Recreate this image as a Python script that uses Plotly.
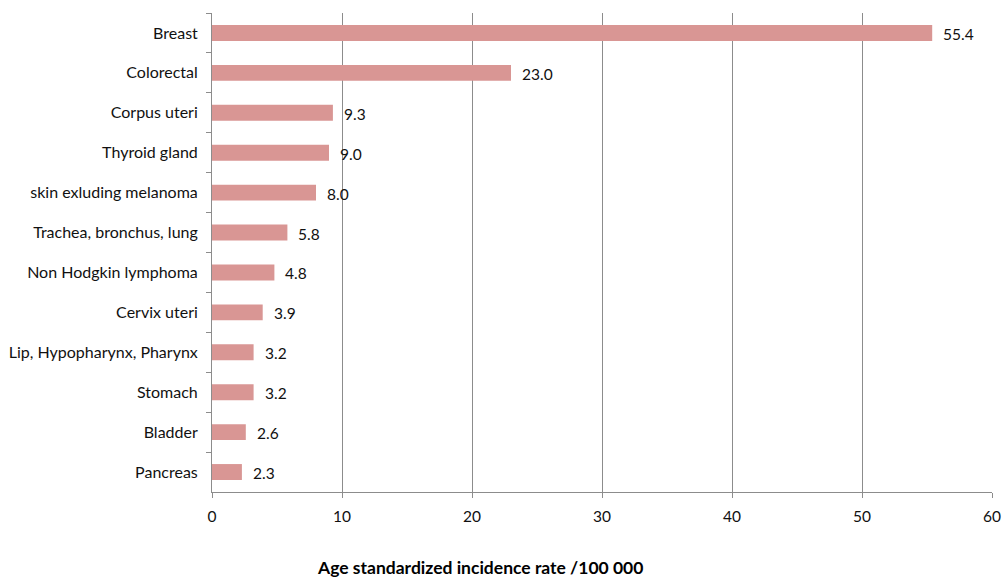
import plotly.graph_objects as go

sites = [
    "Breast", "Colorectal", "Corpus uteri", "Thyroid gland",
    "skin exluding melanoma", "Trachea, bronchus, lung",
    "Non Hodgkin lymphoma", "Cervix uteri", "Lip, Hypopharynx, Pharynx",
    "Stomach", "Bladder", "Pancreas",
]
rates = [55.4, 23.0, 9.3, 9.0, 8.0, 5.8, 4.8, 3.9, 3.2, 3.2, 2.6, 2.3]
x_ticks = [0, 10, 20, 30, 40, 50, 60]

FONT = "Lato, Calibri, Carlito, sans-serif"
AXIS_GREY = "#8c8c8c"
TEXT = "#111111"

fig = go.Figure(
    go.Bar(
        x=rates,
        y=sites,
        orientation="h",
        width=0.4,
        marker=dict(color="#d99694", line=dict(width=0)),
        hoverinfo="x+y",
    )
)

# value labels just past the end of each bar
for site, rate in zip(sites, rates):
    fig.add_annotation(
        x=rate, y=site, text=f"{rate:.1f}", showarrow=False,
        xanchor="left", xshift=9, yshift=-1,
        font=dict(family=FONT, size=15.5, color=TEXT),
    )

fig.add_annotation(
    xref="paper", yref="paper", x=0.344, y=-0.157,
    text="<b>Age standardized incidence rate /100 000</b>",
    showarrow=False, xanchor="center", yanchor="middle",
    font=dict(family=FONT, size=17.5, color="#000"),
)

fig.update_layout(
    width=1003, height=578,
    margin=dict(l=212, r=11, t=13, b=86),
    paper_bgcolor="white", plot_bgcolor="white",
    showlegend=False,
    font=dict(family=FONT, size=16, color=TEXT),
    bargap=0.6,
)
fig.update_xaxes(
    range=[0, 60], tickvals=x_ticks, ticktext=[str(v) for v in x_ticks],
    showgrid=True, gridcolor=AXIS_GREY, gridwidth=1,
    showline=True, linecolor=AXIS_GREY, linewidth=1,
    ticks="outside", ticklen=5, tickcolor=AXIS_GREY,
    zeroline=False, tickfont=dict(size=15.5), ticklabelstandoff=5,
    automargin=False,
)
fig.update_yaxes(
    categoryorder="array", categoryarray=sites, autorange="reversed",
    showgrid=False, showline=True, linecolor=AXIS_GREY, linewidth=1,
    ticks="outside", ticklen=5, tickcolor=AXIS_GREY, tickson="boundaries",
    ticklabelstandoff=10, tickfont=dict(size=16), automargin=False,
)

fig.write_html("out.html")
